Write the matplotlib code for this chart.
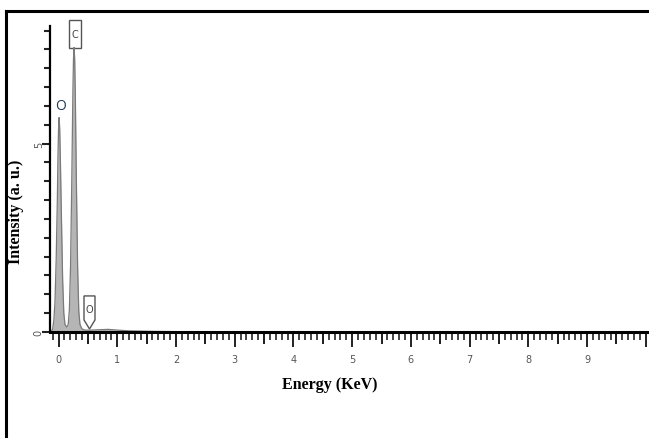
import numpy as np
import matplotlib.pyplot as plt
from matplotlib.lines import Line2D
from matplotlib.patches import Polygon
from matplotlib.ticker import MultipleLocator

# spectrum (energy in keV, intensity a.u.)
energy = [-0.145, -0.12, -0.1, -0.08, -0.06, -0.04, -0.02, -0.01, 0.0, 0.01, 0.02, 0.03,
          0.05, 0.07, 0.09, 0.11, 0.14, 0.165, 0.185, 0.205, 0.225, 0.245, 0.255,
          0.265, 0.275, 0.285, 0.305, 0.325, 0.345, 0.365, 0.4, 0.45, 0.55,
          0.7, 0.85, 1.0, 1.2, 1.5, 2.0, 3.0, 5.0, 10.0]
intensity = [0.0, 0.02, 0.08, 0.3, 0.8, 1.9, 3.5, 4.6, 5.35, 5.69, 5.4, 4.7,
             3.0, 1.4, 0.5, 0.2, 0.13, 0.2, 0.6, 1.75, 3.9, 6.4, 7.25,
             7.55, 7.25, 6.4, 3.9, 1.75, 0.55, 0.2, 0.08, 0.05, 0.05,
             0.06, 0.07, 0.05, 0.03, 0.02, 0.01, 0.0, 0.0, 0.0]

x_labels = ['0', '1', '2', '3', '4', '5', '6', '7', '8', '9', '']
x_ticks = [0, 1, 2, 3, 4, 5, 6, 7, 8, 9, 10]

fig = plt.figure(figsize=(6.49, 4.39), dpi=100)
ax = fig.add_axes([50/649, 106/439, 597/649, 306/439])

ax.fill_between(energy, intensity, 0, color='#b5b5b5', lw=0)
ax.plot(energy, intensity, color='#7a7a7a', lw=0.9)

ax.set_xlim(-0.145, 10.02)
ax.set_ylim(0, 8.12)

for s in ['top', 'right']:
    ax.spines[s].set_visible(False)
ax.spines['bottom'].set_linewidth(2.2)
ax.spines['left'].set_linewidth(1.6)

tick_font = ['Liberation Sans Narrow', 'DejaVu Sans']
ax.set_xticks(x_ticks)
ax.set_xticklabels(x_labels, fontsize=7, family=tick_font)
ax.xaxis.set_minor_locator(MultipleLocator(0.1))
ax.tick_params(axis='x', which='major', length=11, width=1.4, pad=5)
ax.tick_params(axis='x', which='minor', length=6, width=1.2)
# half-keV ticks are a bit longer
for xv in np.arange(0.5, 10, 1.0):
    ax.add_line(Line2D([xv, xv], [0, 0], transform=ax.get_xaxis_transform(),
                       marker=3, markersize=8.5, mew=1.3, color='#222222', clip_on=False))

ax.set_yticks([0, 5])
ax.set_yticklabels(['0', '5'], fontsize=7, family=tick_font, rotation=90, va='center')
ax.yaxis.set_minor_locator(MultipleLocator(0.5))
ax.tick_params(axis='y', which='major', length=5.5, width=1.5, pad=-1)
ax.tick_params(axis='y', which='minor', length=4.5, width=1.5)
ax.tick_params(colors='#222222', which='both')
for lab in ax.get_xticklabels() + ax.get_yticklabels():
    lab.set_color('#555555')

# peak labels
ax.text(0.03, 6.0, 'O', fontsize=10, color='#1f3550', ha='center', va='center',
        family=['Open Sans', 'DejaVu Sans'])
ax.add_patch(Polygon([(0.179, 8.27), (0.383, 8.27), (0.383, 7.53), (0.179, 7.53)],
                     closed=True, fc='white', ec='#555555', lw=1.0, clip_on=False))
ax.text(0.281, 7.9, 'C', fontsize=7, color='#444444', ha='center', va='center',
        family=tick_font)
ax.add_patch(Polygon([(0.434, 0.957), (0.621, 0.957), (0.621, 0.32), (0.528, 0.08),
                      (0.434, 0.32)], closed=True, fc='white', ec='#555555', lw=1.0,
                     clip_on=False))
ax.text(0.528, 0.61, 'O', fontsize=7, color='#444444', ha='center', va='center',
        family=tick_font)

fig.text(330/649, 1 - 385/439, 'Energy (KeV)', fontsize=11.5, fontweight='bold',
         family='Liberation Serif', ha='center', va='center')
fig.text(16/649, 1 - 212/439, 'Intensity (a. u.)', fontsize=11.5, fontweight='bold',
         family='Liberation Serif', ha='center', va='center', rotation=90)

# outer frame (only left and top edges visible)
fig.add_artist(Line2D([6/649, 6/649], [0, 1 - 12/439], transform=fig.transFigure,
                      color='black', lw=2.2, solid_capstyle='projecting'))
fig.add_artist(Line2D([6/649, 1], [1 - 12/439, 1 - 12/439], transform=fig.transFigure,
                      color='black', lw=2.2, solid_capstyle='projecting'))

fig.savefig('out.png', dpi=100)
